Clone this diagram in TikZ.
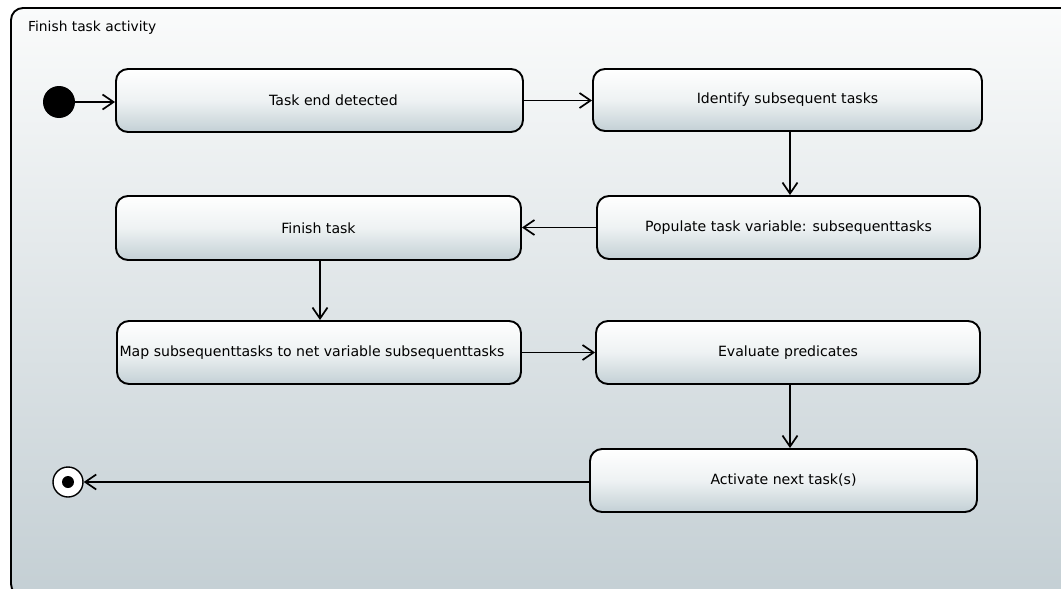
\documentclass[tikz,border=0pt]{standalone}
\usepackage{fontspec}
\setmainfont{DejaVu Sans}
\usetikzlibrary{arrows.meta,calc}
\definecolor{bgtop}{HTML}{FAFBFB}
\definecolor{bgbot}{HTML}{C4CFD4}
\definecolor{boxbot}{HTML}{C3D0D5}
\definecolor{boxmid}{HTML}{EEF2F3}
\begin{document}
\begin{tikzpicture}[x=1pt,y=-1pt,
  actbox/.style={draw=black, line width=1.9pt, rounded corners=12pt,
    top color=white, bottom color=boxbot, middle color=boxmid,
    inner sep=0pt, font=\fontsize{14.1}{16}\selectfont},
  flow/.style={line width=1.9pt, -{Straight Barb[length=11pt,width=15pt,line width=1.7pt]}}
]
\useasboundingbox (0,0) rectangle (1061,589);
\begin{scope}
\clip (0,0) rectangle (1061,589);
\shade[top color=bgtop, bottom color=bgbot] (11,8) [rounded corners=12pt] rectangle (1080,596);
\draw[line width=1.9pt, rounded corners=12pt] (11,8) rectangle (1080,596);
\end{scope}
\node[anchor=base west, font=\fontsize{13.8}{16}\selectfont, inner sep=0pt] (title) at (28,31) {Finish task activity};

\node[circle, fill=black, minimum size=32pt, inner sep=0pt] (init) at (59,102) {};
\node[circle, draw=black, fill=white, line width=1.4pt, minimum size=30pt, inner sep=0pt] (final) at (68,482) {};
\node[circle, fill=black, minimum size=12pt, inner sep=0pt] (finaldot) at (68,482) {};

\node[actbox, minimum width=407pt, minimum height=63pt] (t1) at (319.5,100.5) {\hspace*{28pt}Task end detected};
\node[actbox, minimum width=389pt, minimum height=62pt] (t2) at (787.5,100) {Identify subsequent tasks};
\node[actbox, minimum width=383pt, minimum height=63pt] (t3) at (788.5,227.5) {Populate task variable: subsequenttasks};
\node[actbox, minimum width=405pt, minimum height=64pt] (t4) at (318.5,228) {Finish task};
\node[actbox, minimum width=404pt, minimum height=63pt] (t5) at (319,352.5) {Map subsequenttasks to net variable subsequenttasks\hspace*{14pt}};
\node[actbox, minimum width=384pt, minimum height=63pt] (t6) at (788,352.5) {Evaluate predicates};
\node[actbox, minimum width=387pt, minimum height=63pt] (t7) at (783.5,480.5) {Activate next task(s)};

\coordinate (a23) at (790,0);
\coordinate (a45) at (320,0);
\coordinate (a67) at (790,0);

\draw[flow] (init) -- (init -| t1.west);
\draw[flow] (t1.east) -- (t1.east -| t2.west);
\draw[flow] (a23 |- t2.south) -- (a23 |- t3.north);
\draw[flow] (t3.west) -- (t3.west -| t4.east);
\draw[flow] (a45 |- t4.south) -- (a45 |- t5.north);
\draw[flow] (t5.east) -- (t5.east -| t6.west);
\draw[flow] (a67 |- t6.south) -- (a67 |- t7.north);
\draw[flow] (t7.west |- final) -- (final.east);
\end{tikzpicture}
\end{document}
